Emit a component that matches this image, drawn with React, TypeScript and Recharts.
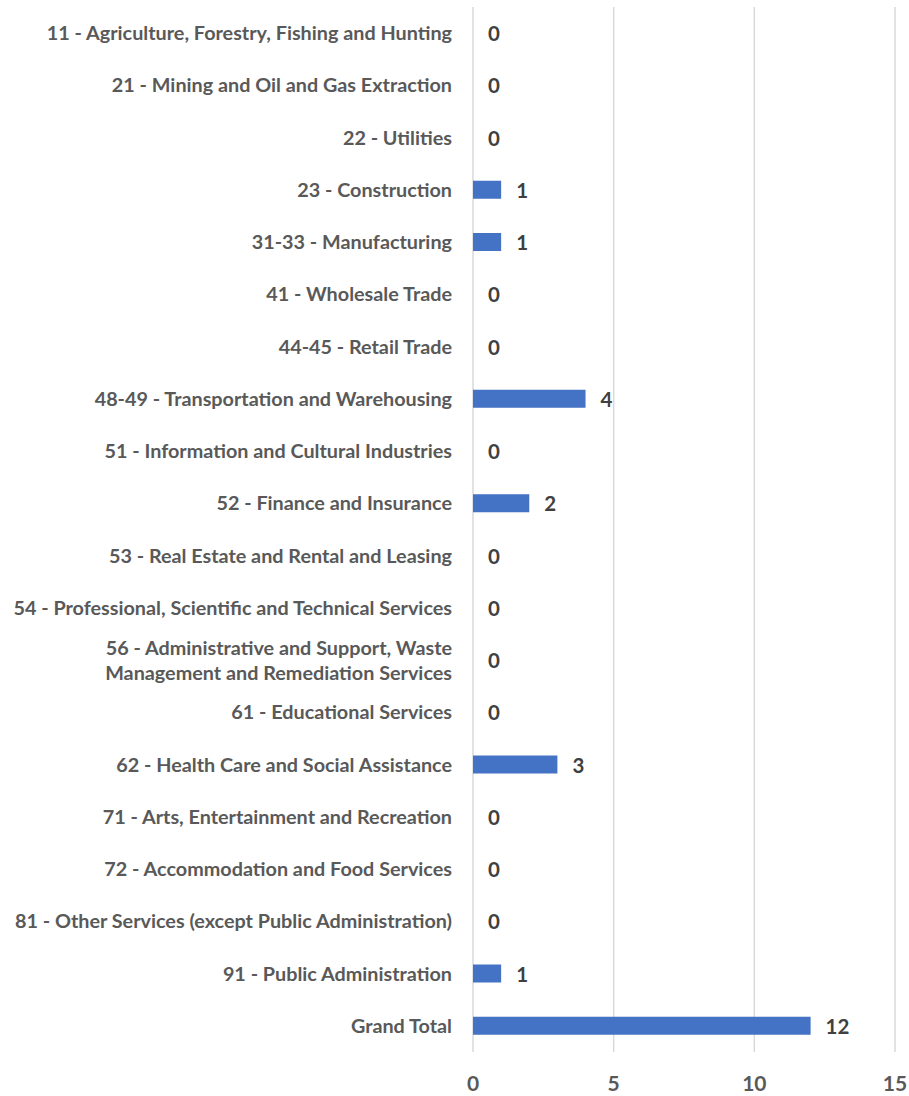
import React from "react";
import { BarChart, Bar, XAxis, YAxis, CartesianGrid } from "recharts";

const categories = [
  "11 - Agriculture, Forestry, Fishing and Hunting",
  "21 - Mining and Oil and Gas Extraction",
  "22 - Utilities",
  "23 - Construction",
  "31-33 - Manufacturing",
  "41 - Wholesale Trade",
  "44-45 - Retail Trade",
  "48-49 - Transportation and Warehousing",
  "51 - Information and Cultural Industries",
  "52 - Finance and Insurance",
  "53 - Real Estate and Rental and Leasing",
  "54 - Professional, Scientific and Technical Services",
  "56 - Administrative and Support, Waste Management and Remediation Services",
  "61 - Educational Services",
  "62 - Health Care and Social Assistance",
  "71 - Arts, Entertainment and Recreation",
  "72 - Accommodation and Food Services",
  "81 - Other Services (except Public Administration)",
  "91 - Public Administration",
  "Grand Total",
];

const counts = [0, 0, 0, 1, 1, 0, 0, 4, 0, 2, 0, 0, 0, 0, 3, 0, 0, 0, 1, 12];

const xTicks = [0, 5, 10, 15];

const data = categories.map((name, i) => ({ name, value: counts[i] }));

const FONT = "Lato, 'Open Sans', sans-serif";

// long labels get split in two at the space nearest the middle
function splitLabel(s: string): string[] {
  if (s.length <= 55) return [s];
  const mid = s.length / 2;
  let best = -1;
  for (let i = 0; i < s.length; i++) {
    if (s[i] === " " && (best < 0 || Math.abs(i - mid) < Math.abs(best - mid))) best = i;
  }
  return [s.slice(0, best), s.slice(best + 1)];
}

function CategoryTick({ x, y, payload }: any) {
  const lines = splitLabel(payload.value);
  const lh = 25;
  const y0 = y - 1 - ((lines.length - 1) * lh) / 2;
  return (
    <text textAnchor="end" fill="#595959" fontSize={19.8} fontWeight={700} fontFamily={FONT}>
      {lines.map((l, i) => (
        <tspan key={i} x={x - 13} y={y0 + i * lh} dominantBaseline="central">
          {l}
        </tspan>
      ))}
    </text>
  );
}

// bar + value label drawn together so zero rows still get their "0"
function BarWithLabel({ x, y, width, height, value, fill }: any) {
  const w = Math.max(0, width || 0);
  return (
    <g>
      {w > 0 && <rect x={x} y={y} width={w} height={height} fill={fill} />}
      <text
        x={x + w + 15}
        y={y + height / 2}
        dominantBaseline="central"
        fill="#404040"
        fontSize={20.5}
        fontWeight={700}
        fontFamily={FONT}
      >
        {Array.isArray(value) ? value[1] - value[0] : value}
      </text>
    </g>
  );
}

export default function App() {
  return (
    <div style={{ position: "absolute", left: 0, top: 0, width: 909, height: 1096, background: "#fff" }}>
      <BarChart
        width={909}
        height={1096}
        data={data}
        layout="vertical"
        margin={{ top: 7, right: 14, bottom: 0, left: 0 }}
        barCategoryGap={0}
      >
        <CartesianGrid vertical horizontal={false} stroke="#d9d9d9" strokeWidth={1.5} />
        <XAxis
          type="number"
          domain={[0, 15]}
          ticks={xTicks}
          height={44}
          axisLine={false}
          tickLine={false}
          tickSize={0}
          tickMargin={24}
          tick={{ fill: "#595959", fontSize: 21, fontWeight: 700, fontFamily: FONT }}
        />
        <YAxis
          type="category"
          dataKey="name"
          width={473}
          axisLine={false}
          tickLine={false}
          interval={0}
          tick={<CategoryTick />}
        />
        <Bar
          dataKey="value"
          fill="#4472C4"
          barSize={18}
          isAnimationActive={false}
          shape={<BarWithLabel />}
        />
      </BarChart>
    </div>
  );
}
